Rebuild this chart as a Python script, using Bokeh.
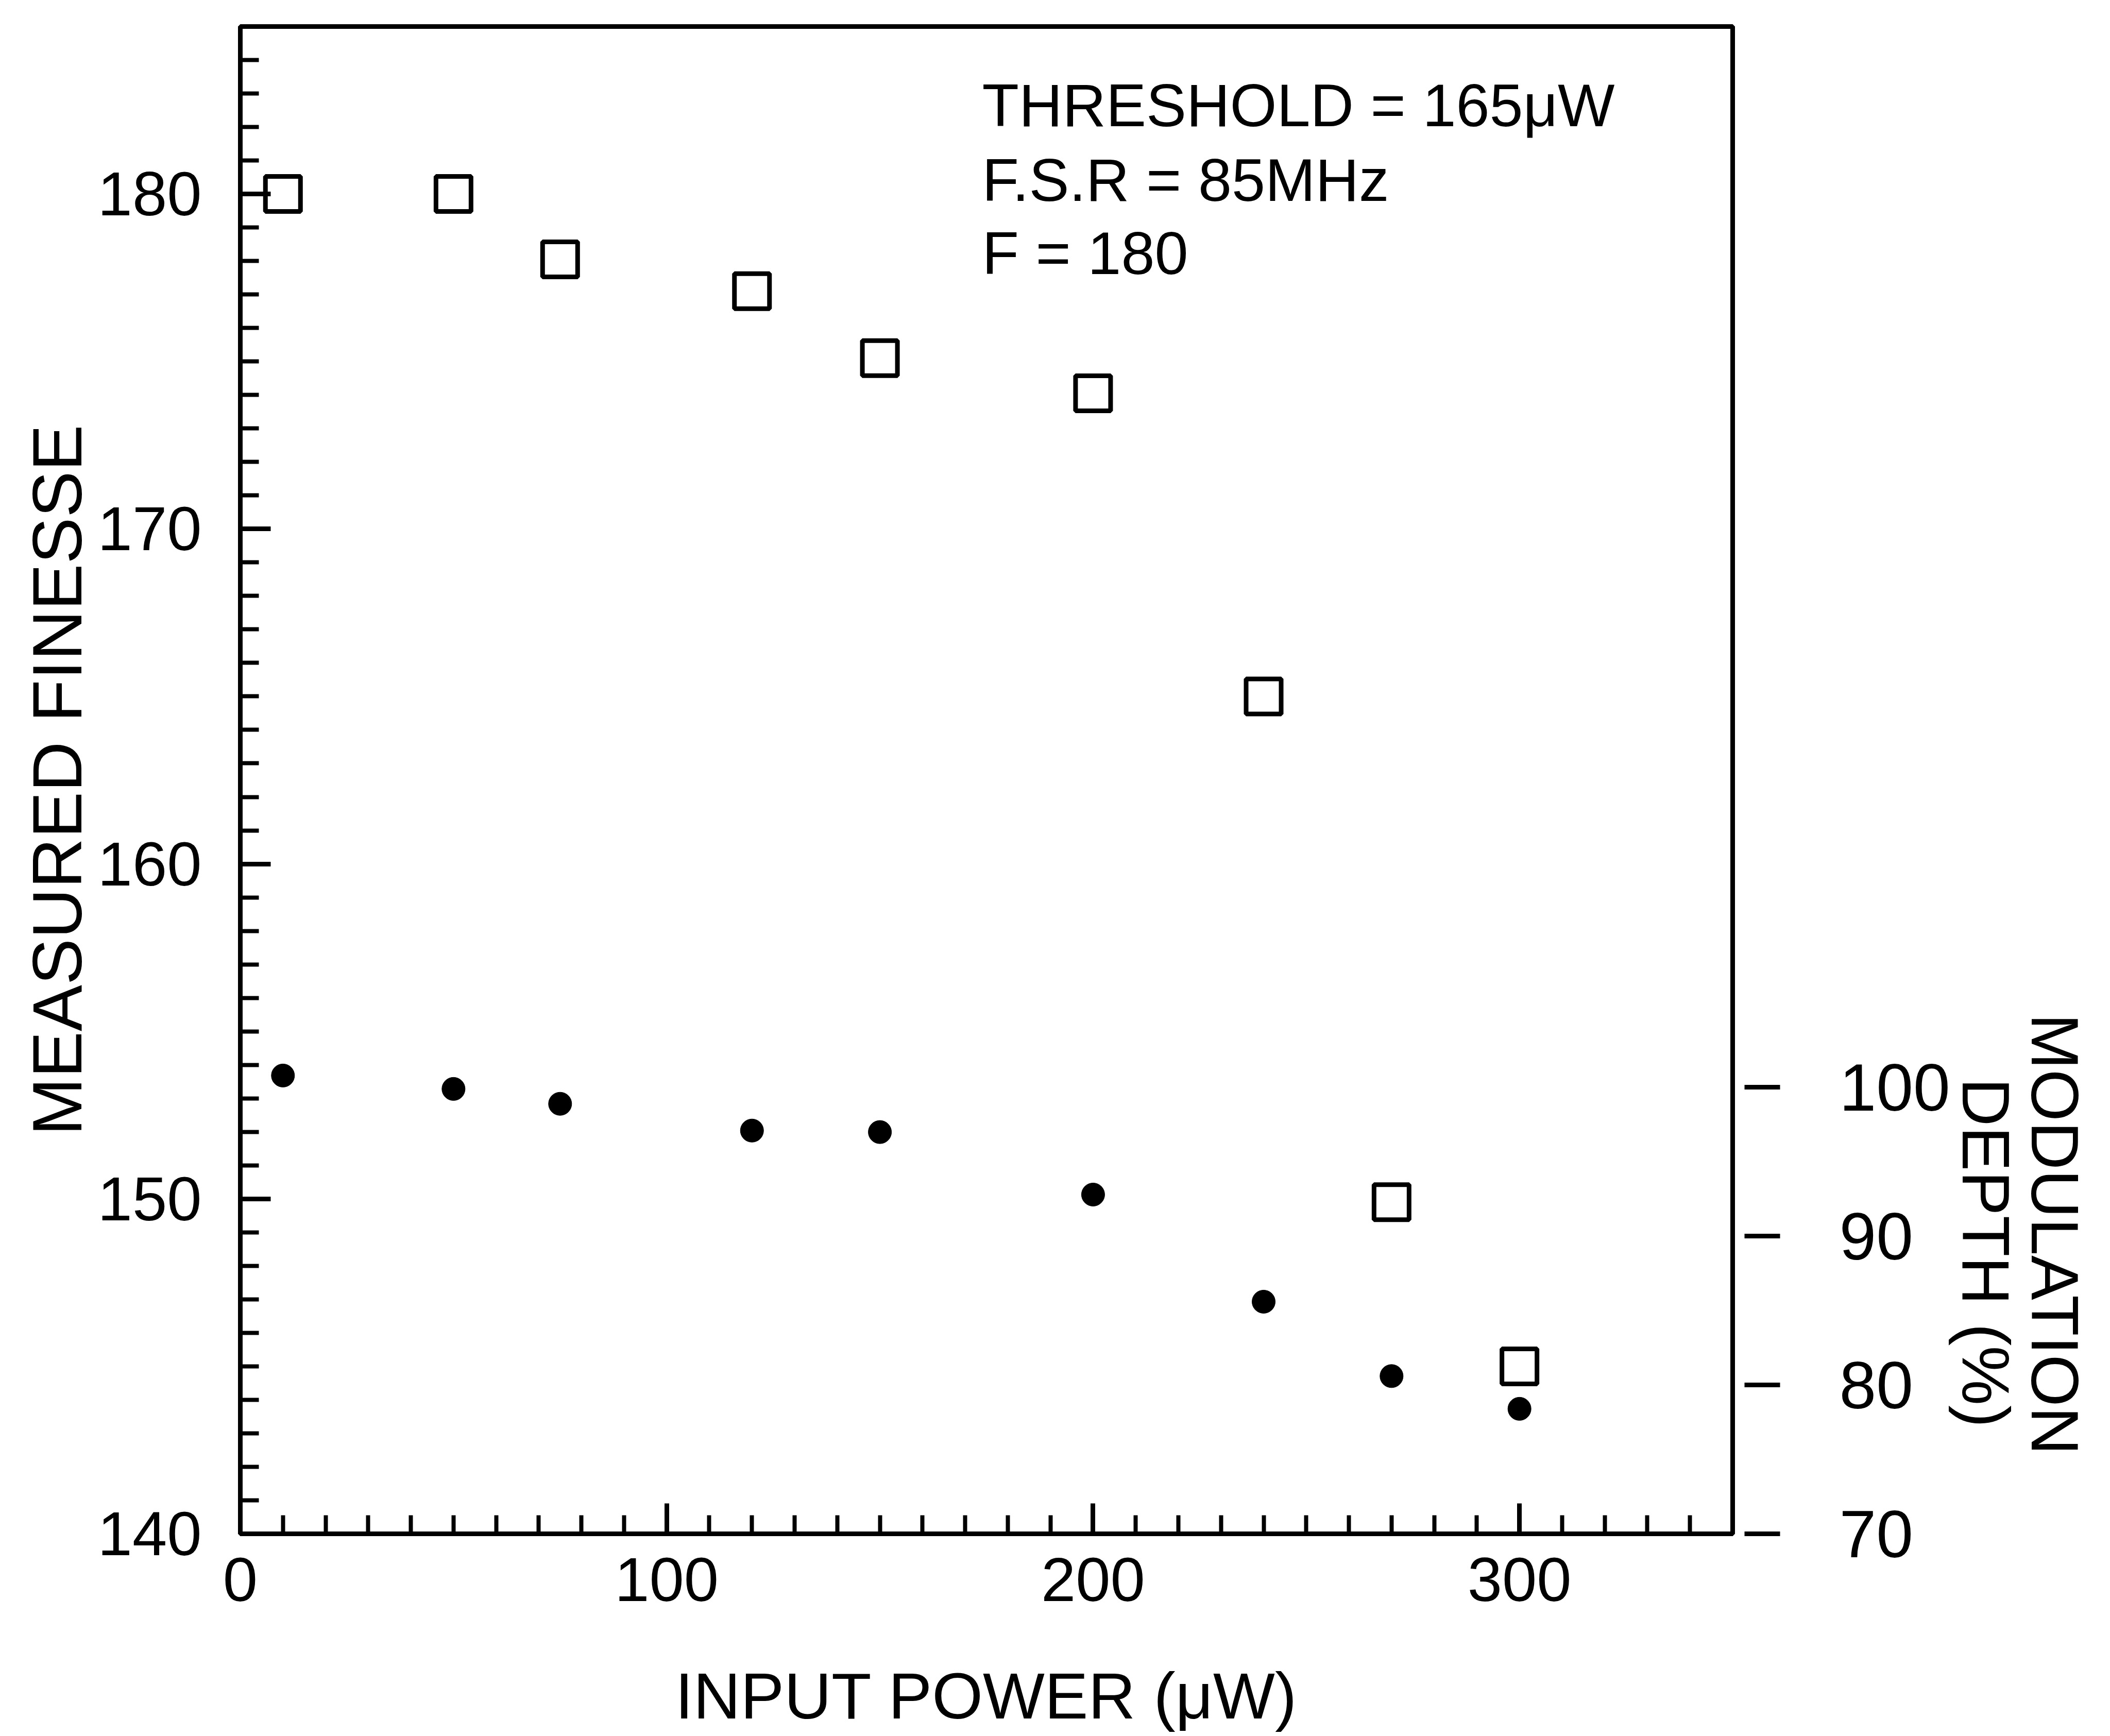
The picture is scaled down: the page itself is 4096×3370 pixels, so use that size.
import math
from bokeh.plotting import figure
from bokeh.models import Range1d, LinearAxis, FixedTicker, Label, Title
from bokeh.embed import file_html
from bokeh.resources import INLINE

# ---------------- data ----------------
power_uw = [10, 50, 75, 120, 150, 200, 240, 270, 300]
finesse = [180.0, 180.0, 178.05, 177.1, 175.1, 174.05, 165.0, 149.9, 145.0]
mod_depth = [100.8, 99.9, 98.9, 97.1, 97.0, 92.8, 85.6, 80.6, 78.4]

x_major = [0, 100, 200, 300]
x_minor = list(range(0, 350, 10))
y_major = [140, 150, 160, 170, 180]
y_minor = list(range(140, 186))
depth_ticks = [70, 80, 90, 100]

x_title = "INPUT POWER (μW)"
y_title = "MEASURED FINESSE"
y2_title = ["MODULATION", "DEPTH (%)"]
annotation = ["THRESHOLD = 165μW", "F.S.R = 85MHz", "F = 180"]

# ---------------- layout ----------------
W, H = 4096, 3370
BL, BR, BT, BB = 466, 733, 51, 393
FONT = "Liberation Sans"
LW = 9

p = figure(width=W, height=H, x_range=Range1d(0, 350), y_range=Range1d(140, 185),
           output_backend="svg", toolbar_location=None,
           min_border_left=BL, min_border_right=BR, min_border_top=BT, min_border_bottom=BB)
p.extra_y_ranges = {"depth": Range1d(70, 171.3)}

p.xgrid.visible = False
p.ygrid.visible = False
p.background_fill_color = "white"
p.border_fill_color = "white"
p.outline_line_color = "black"
p.outline_line_width = LW
p.outline_line_alpha = 1.0

for ax, ticks, minors in ((p.xaxis[0], x_major, x_minor), (p.yaxis[0], y_major, y_minor)):
    ax.ticker = FixedTicker(ticks=ticks, minor_ticks=minors)
    ax.axis_line_color = "black"
    ax.axis_line_width = LW
    ax.major_tick_in = 59
    ax.major_tick_out = 0
    ax.minor_tick_in = 36
    ax.minor_tick_out = 0
    ax.major_tick_line_color = "black"
    ax.minor_tick_line_color = "black"
    ax.major_tick_line_width = LW
    ax.minor_tick_line_width = 8
    ax.major_label_text_font = FONT
    ax.major_label_text_font_size = "121px"
    ax.major_label_text_color = "black"
    ax.axis_label_text_font = FONT
    ax.axis_label_text_font_style = "normal"
    ax.axis_label_text_color = "black"

p.xaxis[0].major_label_standoff = 47
p.xaxis[0].axis_label = x_title
p.xaxis[0].axis_label_text_font_size = "127px"
p.xaxis[0].axis_label_standoff = 110

p.yaxis[0].major_label_standoff = 75
p.yaxis[0].axis_label = y_title
p.yaxis[0].axis_label_text_font_size = "135px"
p.yaxis[0].axis_label_standoff = 0

ra = LinearAxis(y_range_name="depth", ticker=FixedTicker(ticks=depth_ticks), bounds=(70, 100))
ra.axis_line_color = None
ra.major_tick_in = -23
ra.major_tick_out = 92
ra.major_tick_line_color = "black"
ra.major_tick_line_width = LW
ra.minor_tick_line_color = None
ra.minor_tick_out = 0
ra.major_label_standoff = 115
ra.major_label_text_font = FONT
ra.major_label_text_font_size = "129px"
ra.major_label_text_color = "black"
p.add_layout(ra, "right")

# right-hand axis title, two lines, reading downwards
for txt, off in ((y2_title[1], 2041), (y2_title[0], 1916)):
    p.add_layout(Title(text=txt, align="left", vertical_align="bottom", offset=off,
                       standoff=-14, text_font=FONT, text_font_size="130px",
                       text_font_style="normal", text_color="black"), "right")

# ---------------- data marks ----------------
p.scatter(power_uw, finesse, marker="square", size=68, fill_color=None,
          line_color="black", line_width=LW)
p.scatter(power_uw, mod_depth, marker="circle", size=45, fill_color="black",
          line_color="black", line_width=1, y_range_name="depth")

# ---------------- annotation ----------------
for txt, yb in zip(annotation, (2773, 2628, 2486)):
    p.add_layout(Label(x=1440, y=yb, x_units="screen", y_units="screen", text=txt,
                       text_align="left", text_baseline="alphabetic",
                       text_font=FONT, text_font_size="117px", text_color="black"))

open("out.html", "w").write(file_html(p, INLINE))
